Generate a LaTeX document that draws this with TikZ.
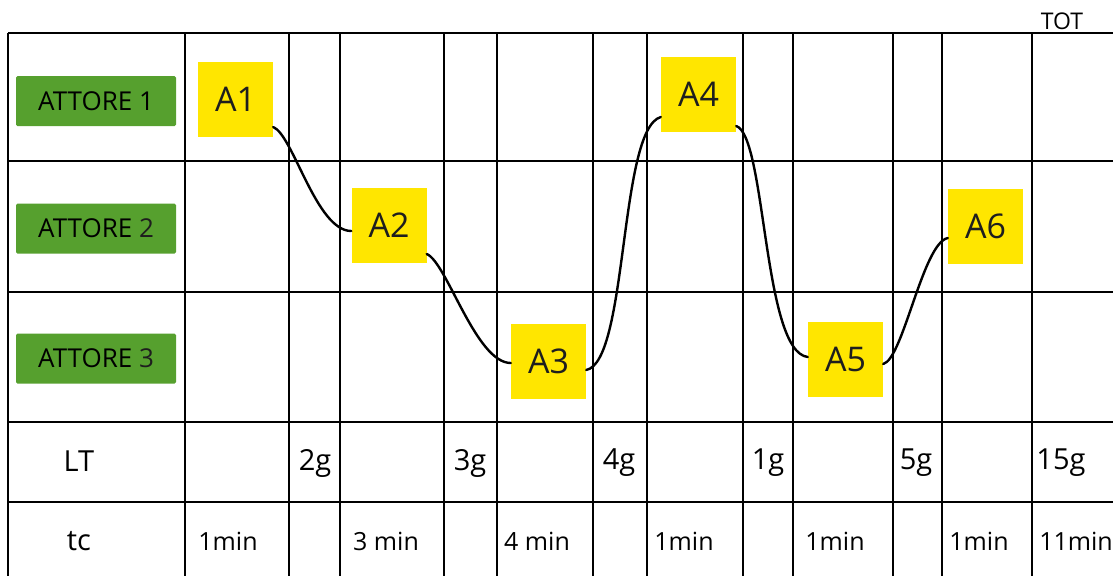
\documentclass[tikz,border=0pt]{standalone}
\usepackage{fontspec}
\setmainfont{Open Sans}
\definecolor{actgreen}{RGB}{86,160,46}
\definecolor{stickyyellow}{RGB}{255,230,0}
\definecolor{inkgray}{RGB}{30,30,30}
\tikzset{
  gridline/.style={line width=2pt, black},
  actor/.style={fill=actgreen, rounded corners=1.5pt, minimum width=160pt, minimum height=50pt, inner sep=0pt, text=black, font=\fontsize{26}{26}\selectfont},
  sticky/.style={fill=stickyyellow, minimum width=75pt, minimum height=75pt, inner sep=0pt, text=inkgray, font=\fontsize{34}{34}\selectfont},
  cell/.style={inner sep=0pt, text=black, font=\fontsize{29}{29}\selectfont},
  small/.style={inner sep=0pt, text=black, font=\fontsize{25}{25}\selectfont},
  flow/.style={line width=2.4pt, black, line cap=round}
}
\begin{document}
\begin{tikzpicture}[x=1pt,y=-1pt]
\useasboundingbox (0,0) rectangle (1113,576);
% grid
\foreach \yy in {33,161,292,422,502}
  \draw[gridline] (8,\yy) -- (1113,\yy);
\foreach \xx in {8,185,289,340,444,497,593,647,743,793,893,942,1032}
  \draw[gridline] (\xx,33) -- (\xx,576);
% TOT
\node[inner sep=0pt, font=\fontsize{23}{23}\selectfont] (tot) at (1062,21) {TOT};
% actors
\node[actor] (r1) at (96,101) {ATTORE 1};
\node[actor] (r2) at (96,228.5) {ATTORE \textcolor{inkgray}{2}};
\node[actor] (r3) at (96,358.5) {ATTORE \textcolor{inkgray}{3}};
% activities
\node[sticky] (A1) at (235.5,99.5) {A1};
\node[sticky] (A2) at (389,225.5) {A2};
\node[sticky] (A3) at (548.5,361) {A3};
\node[sticky] (A4) at (698.5,94.5) {A4};
\node[sticky] (A5) at (845.5,359.5) {A5};
\node[sticky] (A6) at (985.5,226.5) {A6};
% flows
\draw[flow] ([yshift=-27.5pt]A1.east) .. controls +(20,8) and +(-35,0) .. ([yshift=-5.5pt]A2.west);
\draw[flow] ([yshift=-28.5pt]A2.east) .. controls +(20,8) and +(-35,0) .. ([yshift=-2pt]A3.west);
\draw[flow] ([yshift=-9pt]A3.east) .. controls +(42,-8) and +(-42,12) .. ([yshift=-22.5pt]A4.west);
\draw[flow] ([yshift=-31.5pt]A4.east) .. controls +(30,10) and +(-45,-5) .. ([yshift=2.5pt]A5.west);
\draw[flow] ([yshift=-4.5pt]A5.east) .. controls +(20,-5) and +(-25,5) .. ([yshift=-11.5pt]A6.west);
% row labels
\node[cell] (lt) at (79,461) {LT};
\node[cell] (tc) at (79,541) {tc};
% LT row
\node[cell] (g1) at (315,463) {2g};
\node[cell] (g2) at (470,463) {3g};
\node[cell] (g3) at (619,463) {4g};
\node[cell] (g4) at (768,463) {1g};
\node[cell] (g5) at (916,463) {5g};
\node[cell] (g6) at (1061,463) {15g};
% tc row
\node[small] (m1) at (228,541) {1min};
\node[small] (m2) at (386,541) {3 min};
\node[small] (m3) at (537,541) {4 min};
\node[small] (m4) at (684,541) {1min};
\node[small] (m5) at (835,541) {1min};
\node[small] (m6) at (979,541) {1min};
\node[small] (m7) at (1076,541) {11min};
\end{tikzpicture}
\end{document}
